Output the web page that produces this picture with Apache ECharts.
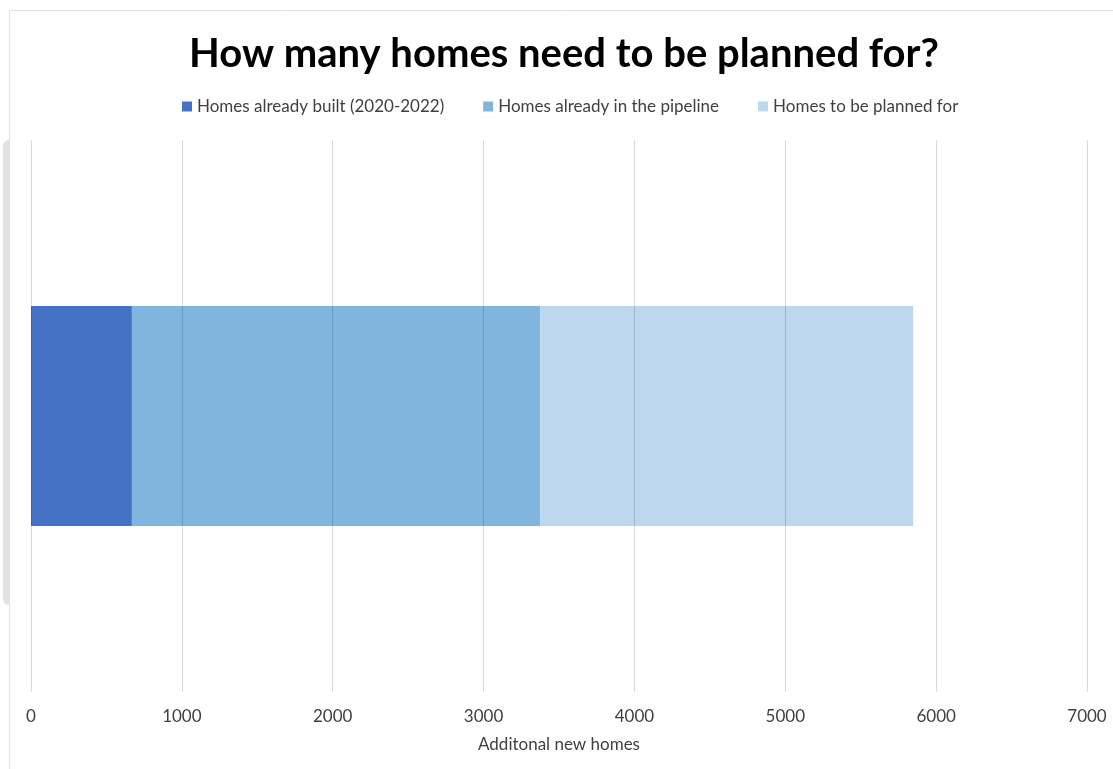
<!DOCTYPE html>
<html>
<head>
<meta charset="utf-8">
<script src="https://cdn.jsdelivr.net/npm/echarts@6/dist/echarts.min.js"></script>
<style>html,body{margin:0;padding:0;background:#fff;}#c{width:1113px;height:769px;}</style>
</head>
<body>
<div id="c"></div>
<script>
const categories = ['Homes'];
const seriesNames = ['Homes already built (2020-2022)', 'Homes already in the pipeline', 'Homes to be planned for'];
const builtValues = [669];
const pipelineValues = [2706];
const plannedValues = [2473];
const xTicks = [0, 1000, 2000, 3000, 4000, 5000, 6000, 7000];

const colors = ['#4472C4', '#7FB5DE', '#BDD8EE'];
const font = 'Lato, "Open Sans", sans-serif';

const chart = echarts.init(document.getElementById('c'));
chart.setOption({
  animation: false,
  backgroundColor: '#fff',
  title: {
    text: 'How many homes need to be planned for?',
    left: 564,
    textAlign: 'center',
    top: 34,
    padding: 0,
    textStyle: { fontFamily: font, fontWeight: 'bold', fontSize: 40, color: '#000' }
  },
  legend: {
    top: 98,
    left: 182,
    padding: 0,
    itemWidth: 10,
    itemHeight: 10,
    itemGap: 39,
    icon: 'rect',
    textStyle: { fontFamily: font, fontSize: 17, color: '#404040' },
    data: seriesNames
  },
  graphic: [
    { type: 'line', shape: { x1: 9.5, y1: 10.5, x2: 9.5, y2: 769 }, style: { stroke: '#E2E2E2', lineWidth: 1 } },
    { type: 'line', shape: { x1: 9.5, y1: 10.5, x2: 1113, y2: 10.5 }, style: { stroke: '#E2E2E2', lineWidth: 1 } },
    { type: 'rect', shape: { x: 3, y: 140, width: 6, height: 465, r: [6, 0, 0, 6] }, style: { fill: '#E2E2E2' } }
  ],
  grid: { left: 31, right: 26, top: 140, bottom: 77, containLabel: false },
  xAxis: {
    type: 'value',
    min: xTicks[0],
    max: xTicks[xTicks.length - 1],
    interval: 1000,
    z: 10,
    name: 'Additonal new homes',
    nameLocation: 'middle',
    nameGap: 44,
    nameTextStyle: { fontFamily: font, fontSize: 17, color: '#404040' },
    axisLine: { show: false },
    axisTick: { show: false },
    axisLabel: { fontFamily: font, fontSize: 17, color: '#404040', margin: 16, formatter: v => String(v) },
    splitLine: { show: true, lineStyle: { color: 'rgba(0,0,0,0.15)', width: 1 } }
  },
  yAxis: {
    type: 'category',
    data: categories,
    show: false
  },
  series: [
    { name: seriesNames[0], type: 'bar', stack: 'total', data: builtValues, barWidth: 220, itemStyle: { color: colors[0] } },
    { name: seriesNames[1], type: 'bar', stack: 'total', data: pipelineValues, barWidth: 220, itemStyle: { color: colors[1] } },
    { name: seriesNames[2], type: 'bar', stack: 'total', data: plannedValues, barWidth: 220, itemStyle: { color: colors[2] } }
  ]
});
</script>
</body>
</html>
